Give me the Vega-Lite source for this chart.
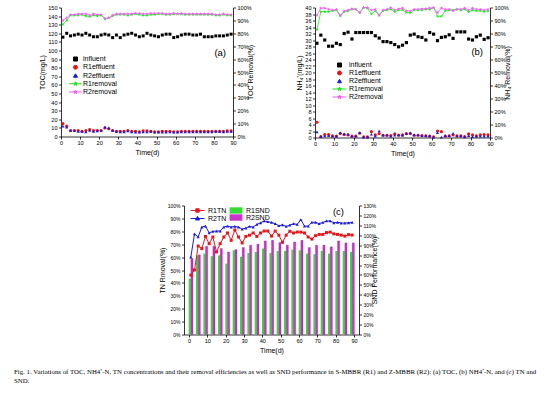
{
"$schema":"https://vega.github.io/schema/vega-lite/v6.json",
"background":"white",
"padding":{"left":13,"top":5.5,"right":5,"bottom":4},
"datasets":{
"toc":[
{"d":1,"inf":115.5,"r1e":15,"r2e":12,"r1r":87,"r2r":90},
{"d":3,"inf":120,"r1e":12,"r2e":11,"r1r":90,"r2r":92},
{"d":5,"inf":117,"r1e":7,"r2e":7,"r1r":94,"r2r":94.5},
{"d":7,"inf":118,"r1e":7,"r2e":7,"r1r":94,"r2r":94.5},
{"d":9,"inf":119,"r1e":7,"r2e":6,"r1r":94,"r2r":95},
{"d":11,"inf":118,"r1e":6,"r2e":6,"r1r":94.5,"r2r":95},
{"d":13,"inf":120,"r1e":7,"r2e":5.5,"r1r":93.5,"r2r":95},
{"d":15,"inf":118,"r1e":8,"r2e":7,"r1r":93,"r2r":94},
{"d":17,"inf":116,"r1e":7,"r2e":6,"r1r":94,"r2r":95},
{"d":19,"inf":116,"r1e":7,"r2e":6.5,"r1r":93.5,"r2r":94.5},
{"d":21,"inf":118,"r1e":7,"r2e":7,"r1r":94,"r2r":94.5},
{"d":23,"inf":119,"r1e":10,"r2e":11,"r1r":91,"r2r":91.5},
{"d":25,"inf":118,"r1e":9,"r2e":10,"r1r":92,"r2r":92},
{"d":27,"inf":115,"r1e":7,"r2e":7,"r1r":93.5,"r2r":94},
{"d":29,"inf":118,"r1e":6,"r2e":6,"r1r":94.5,"r2r":95},
{"d":31,"inf":115,"r1e":6,"r2e":5.5,"r1r":94.5,"r2r":95},
{"d":33,"inf":118,"r1e":6,"r2e":5.5,"r1r":94.5,"r2r":95},
{"d":35,"inf":119,"r1e":7,"r2e":6.5,"r1r":94,"r2r":95},
{"d":37,"inf":120,"r1e":6,"r2e":5.5,"r1r":94.5,"r2r":95},
{"d":39,"inf":118,"r1e":6,"r2e":5,"r1r":95,"r2r":95.5},
{"d":41,"inf":116,"r1e":5.5,"r2e":5,"r1r":94.5,"r2r":95.5},
{"d":43,"inf":117,"r1e":6.5,"r2e":5.5,"r1r":94,"r2r":95},
{"d":45,"inf":120,"r1e":6.5,"r2e":5.5,"r1r":94,"r2r":95},
{"d":47,"inf":118,"r1e":6,"r2e":6,"r1r":94.5,"r2r":95.5},
{"d":49,"inf":117,"r1e":5.5,"r2e":5,"r1r":94.5,"r2r":95.5},
{"d":51,"inf":116,"r1e":5.5,"r2e":5,"r1r":95,"r2r":95.5},
{"d":53,"inf":118,"r1e":6,"r2e":5,"r1r":95,"r2r":95.5},
{"d":55,"inf":119,"r1e":6,"r2e":5,"r1r":94.5,"r2r":95},
{"d":57,"inf":119,"r1e":6,"r2e":5.5,"r1r":94.5,"r2r":95},
{"d":59,"inf":115,"r1e":5.5,"r2e":5,"r1r":95,"r2r":95.5},
{"d":61,"inf":116,"r1e":5.5,"r2e":5,"r1r":95,"r2r":95},
{"d":63,"inf":118,"r1e":6,"r2e":5.5,"r1r":95,"r2r":95.5},
{"d":65,"inf":119,"r1e":6,"r2e":5.5,"r1r":94.5,"r2r":95},
{"d":67,"inf":119,"r1e":6,"r2e":5.5,"r1r":94.5,"r2r":95},
{"d":69,"inf":118,"r1e":6,"r2e":5.5,"r1r":94.5,"r2r":95},
{"d":71,"inf":118,"r1e":6,"r2e":5.5,"r1r":94.5,"r2r":95},
{"d":73,"inf":119,"r1e":6,"r2e":5.5,"r1r":94.5,"r2r":95},
{"d":75,"inf":116,"r1e":6,"r2e":5.5,"r1r":94.5,"r2r":95},
{"d":77,"inf":116,"r1e":6,"r2e":5.5,"r1r":94.5,"r2r":95},
{"d":79,"inf":116,"r1e":6,"r2e":5.5,"r1r":94.5,"r2r":95},
{"d":81,"inf":117,"r1e":6,"r2e":6,"r1r":94,"r2r":94.5},
{"d":83,"inf":117,"r1e":6,"r2e":6,"r1r":94,"r2r":94.5},
{"d":85,"inf":117,"r1e":6,"r2e":5.5,"r1r":94.5,"r2r":95},
{"d":87,"inf":118,"r1e":6.5,"r2e":6,"r1r":94,"r2r":94.5},
{"d":89,"inf":119,"r1e":6.5,"r2e":6,"r1r":94,"r2r":94.5}
],
"nh4":[
{"d":1,"inf":29,"r1e":4.7,"r2e":1.7,"r1r":83,"r2r":94},
{"d":3,"inf":31.5,"r1e":0.3,"r2e":0.3,"r1r":96.8,"r2r":99.5},
{"d":5,"inf":30,"r1e":0.9,"r2e":0.5,"r1r":96.8,"r2r":99.5},
{"d":7,"inf":28.1,"r1e":0.9,"r2e":0.6,"r1r":96.8,"r2r":98.6},
{"d":9,"inf":28.1,"r1e":0.5,"r2e":0.4,"r1r":97.5,"r2r":98},
{"d":11,"inf":29,"r1e":0.4,"r2e":0.4,"r1r":98,"r2r":98.6},
{"d":13,"inf":28.6,"r1e":1.2,"r2e":1.5,"r1r":93.5,"r2r":94},
{"d":15,"inf":32,"r1e":0.9,"r2e":1.1,"r1r":96.8,"r2r":97.3},
{"d":17,"inf":32.4,"r1e":0.8,"r2e":1.0,"r1r":97.3,"r2r":98},
{"d":19,"inf":30.3,"r1e":0.4,"r2e":0.4,"r1r":98.6,"r2r":99},
{"d":21,"inf":32.3,"r1e":0.4,"r2e":0.4,"r1r":98.6,"r2r":98.6},
{"d":23,"inf":32.3,"r1e":1.3,"r2e":1.5,"r1r":96,"r2r":96},
{"d":25,"inf":32.3,"r1e":0.2,"r2e":0.1,"r1r":100,"r2r":100},
{"d":27,"inf":32.3,"r1e":0.2,"r2e":0.1,"r1r":99.5,"r2r":100},
{"d":29,"inf":32.3,"r1e":1.8,"r2e":1.0,"r1r":95,"r2r":98},
{"d":31,"inf":31.3,"r1e":0.8,"r2e":0.4,"r1r":97.3,"r2r":98.6},
{"d":33,"inf":30.6,"r1e":1.2,"r2e":2.0,"r1r":94,"r2r":94},
{"d":35,"inf":29.5,"r1e":0.7,"r2e":0.7,"r1r":97.5,"r2r":98},
{"d":37,"inf":29.5,"r1e":0.7,"r2e":0.7,"r1r":98,"r2r":98.6},
{"d":39,"inf":29.2,"r1e":0.6,"r2e":0.4,"r1r":98.6,"r2r":100},
{"d":41,"inf":28.6,"r1e":1.1,"r2e":0.7,"r1r":96.8,"r2r":98},
{"d":43,"inf":27.9,"r1e":0.7,"r2e":0.8,"r1r":98,"r2r":99},
{"d":45,"inf":28.4,"r1e":0.8,"r2e":0.7,"r1r":98,"r2r":99.5},
{"d":47,"inf":29.2,"r1e":1.2,"r2e":1.2,"r1r":96.2,"r2r":97.5},
{"d":49,"inf":31.5,"r1e":1.2,"r2e":1.4,"r1r":96,"r2r":97.3},
{"d":51,"inf":31.8,"r1e":0.7,"r2e":0.8,"r1r":98,"r2r":98.6},
{"d":53,"inf":31,"r1e":0.7,"r2e":0.8,"r1r":98,"r2r":98.6},
{"d":55,"inf":30.8,"r1e":0.6,"r2e":0.6,"r1r":98,"r2r":99},
{"d":57,"inf":30,"r1e":0.5,"r2e":0.6,"r1r":98.6,"r2r":99},
{"d":59,"inf":32.3,"r1e":0.4,"r2e":0.5,"r1r":98.6,"r2r":99.5},
{"d":61,"inf":31.8,"r1e":0.2,"r2e":0.1,"r1r":100,"r2r":100},
{"d":63,"inf":29.8,"r1e":2.0,"r2e":1.5,"r1r":93.2,"r2r":96},
{"d":65,"inf":30.8,"r1e":1.8,"r2e":0.1,"r1r":93.2,"r2r":99.5},
{"d":67,"inf":31,"r1e":0.4,"r2e":0.6,"r1r":97.5,"r2r":98.6},
{"d":69,"inf":31.6,"r1e":0.5,"r2e":0.6,"r1r":98,"r2r":98.6},
{"d":71,"inf":30.5,"r1e":0.8,"r2e":1.3,"r1r":98,"r2r":97.5},
{"d":73,"inf":32.5,"r1e":0.5,"r2e":0.5,"r1r":98.6,"r2r":98.6},
{"d":75,"inf":32.5,"r1e":0.5,"r2e":0.5,"r1r":98,"r2r":98.6},
{"d":77,"inf":32.5,"r1e":0.3,"r2e":0.2,"r1r":98.6,"r2r":99.5},
{"d":79,"inf":30.3,"r1e":1.1,"r2e":0.6,"r1r":96.8,"r2r":98},
{"d":81,"inf":30,"r1e":0.8,"r2e":0.3,"r1r":98,"r2r":99.5},
{"d":83,"inf":31,"r1e":0.5,"r2e":0.4,"r1r":97.5,"r2r":98.6},
{"d":85,"inf":31.5,"r1e":0.8,"r2e":0.4,"r1r":97.5,"r2r":98.6},
{"d":87,"inf":30.2,"r1e":0.9,"r2e":0.4,"r1r":97,"r2r":98},
{"d":89,"inf":30.7,"r1e":0.8,"r2e":0.4,"r1r":97.3,"r2r":98.6}
],
"tn":[
{"d":1,"r1":46,"r2":60},{"d":3,"r1":50,"r2":78},{"d":5,"r1":68.6,"r2":75.6},{"d":7,"r1":66.6,"r2":83.3},
{"d":9,"r1":76,"r2":84},{"d":11,"r1":70.4,"r2":78.7},{"d":13,"r1":75.6,"r2":80},{"d":15,"r1":64,"r2":80.2},
{"d":17,"r1":70.4,"r2":80.2},{"d":19,"r1":75.6,"r2":83.3},{"d":21,"r1":78.7,"r2":84},{"d":23,"r1":73,"r2":83.3},
{"d":25,"r1":81,"r2":83.8},{"d":27,"r1":75.6,"r2":83.3},{"d":29,"r1":71,"r2":81.7},{"d":31,"r1":76,"r2":82.5},
{"d":33,"r1":77,"r2":83.8},{"d":35,"r1":78.7,"r2":83.3},{"d":37,"r1":76,"r2":85.3},{"d":39,"r1":78.7,"r2":86.6},
{"d":41,"r1":80.2,"r2":88},{"d":43,"r1":80.2,"r2":87.4},{"d":45,"r1":76.3,"r2":86.9},{"d":47,"r1":80.2,"r2":85.9},
{"d":49,"r1":77,"r2":84.3},{"d":51,"r1":71.5,"r2":85},{"d":53,"r1":77,"r2":83.8},{"d":55,"r1":80,"r2":84.8},
{"d":57,"r1":78.7,"r2":85.9},{"d":59,"r1":79.4,"r2":85.3},{"d":61,"r1":79.4,"r2":89},{"d":63,"r1":78.7,"r2":84},
{"d":65,"r1":75.6,"r2":84},{"d":67,"r1":74,"r2":87},{"d":69,"r1":76.6,"r2":87},{"d":71,"r1":77.6,"r2":85.9},
{"d":73,"r1":77.6,"r2":86.9},{"d":75,"r1":79,"r2":88},{"d":77,"r1":79.4,"r2":88},{"d":79,"r1":78,"r2":86.6},
{"d":81,"r1":77.6,"r2":87},{"d":83,"r1":77,"r2":86.4},{"d":85,"r1":76.3,"r2":86.4},{"d":87,"r1":77.4,"r2":86.6},
{"d":89,"r1":77.1,"r2":86.9}
],
"snd":[
{"d":1,"g":56.4,"m":76.6},{"d":5,"g":79.6,"m":80.2},{"d":9,"g":81.5,"m":88.9},{"d":13,"g":78.9,"m":88.9},
{"d":17,"g":79.8,"m":86.6},{"d":21,"g":71.5,"m":83.2},{"d":25,"g":84.9,"m":85.5},{"d":29,"g":78.3,"m":87.6},
{"d":33,"g":82.2,"m":90},{"d":37,"g":83.2,"m":91},{"d":41,"g":86.6,"m":94.3},{"d":45,"g":82.2,"m":94.9},
{"d":49,"g":84.2,"m":92.6},{"d":53,"g":84.2,"m":90},{"d":57,"g":85.5,"m":93.2},{"d":61,"g":84.9,"m":94.9},
{"d":65,"g":81.5,"m":87.6},{"d":69,"g":80.9,"m":90},{"d":73,"g":84.2,"m":90},{"d":77,"g":81.5,"m":88.3},
{"d":81,"g":84.2,"m":94.3},{"d":85,"g":84.2,"m":92.3},{"d":89,"g":83.2,"m":92.3}
]
},
"title":{"text":["Fig. 1. Variations of TOC, NH4⁺-N, TN concentrations and their removal efficiencies as well as SND performance in S-MBBR (R1) and Z-MBBR (R2): (a) TOC, (b) NH4⁺-N, and (c) TN and","SND."],"orient":"bottom","anchor":"start","frame":"bounds","dx":-24.7,"offset":16,"font":"Liberation Serif","fontSize":6.85,"fontWeight":"normal","color":"black","lineHeight":9},
"spacing":47,
"resolve":{"scale":{"color":"independent","stroke":"independent","shape":"independent","fill":"independent"}},
"vconcat":[
{"hconcat":[
{"width":172,"height":129,
 "title":{"text":"(a)","anchor":"end","frame":"group","offset":-52,"dx":-7,"fontSize":9.5,"fontWeight":"normal","font":"Liberation Sans","color":"black"},
 "data":{"name":"toc"},
 "layer":[
   {"mark":{"type":"point","shape":"square","filled":true,"color":"#000000","size":9,"opacity":1},
    "encoding":{"x":{"field":"d","type":"quantitative","scale":{"domain":[0,90],"nice":false},"axis":{"values":[0,10,20,30,40,50,60,70,80,90],"title":"Time(d)"}},
     "y":{"field":"inf","type":"quantitative","scale":{"domain":[0,150],"nice":false},"axis":{"orient":"left","values":[0,10,20,30,40,50,60,70,80,90,100,110,120,130,140,150],"title":"TOC(mg/L)"}}}},
   {"mark":{"type":"point","shape":"circle","filled":true,"color":"#e8161a","size":10,"opacity":1},
    "encoding":{"x":{"field":"d","type":"quantitative","scale":{"domain":[0,90],"nice":false},"axis":{"values":[0,10,20,30,40,50,60,70,80,90],"title":"Time(d)"}},"y":{"field":"r1e","type":"quantitative","scale":{"domain":[0,150],"nice":false},"axis":null}}},
   {"mark":{"type":"point","shape":"triangle-up","filled":true,"color":"#1a1ad8","size":10,"opacity":1},
    "encoding":{"x":{"field":"d","type":"quantitative","scale":{"domain":[0,90],"nice":false},"axis":{"values":[0,10,20,30,40,50,60,70,80,90],"title":"Time(d)"}},"y":{"field":"r2e","type":"quantitative","scale":{"domain":[0,150],"nice":false},"axis":null}}},
   {"mark":{"type":"line","color":"#22e622","strokeWidth":0.8},
    "encoding":{"x":{"field":"d","type":"quantitative","scale":{"domain":[0,90],"nice":false},"axis":{"values":[0,10,20,30,40,50,60,70,80,90],"title":"Time(d)"}},"y":{"field":"r1r","type":"quantitative","scale":{"domain":[0,100],"nice":false},"axis":{"orient":"right","values":[0,10,20,30,40,50,60,70,80,90,100],"labelExpr":"datum.value + '%'","title":"TOC Removal(%)","titleAngle":270}}}},
   {"mark":{"type":"point","shape":"M0,-1L0.235,-0.324L0.951,-0.309L0.38,0.124L0.588,0.809L0,0.4L-0.588,0.809L-0.38,0.124L-0.951,-0.309L-0.235,-0.324Z","filled":true,"color":"#22e622","size":14,"opacity":1},
    "encoding":{"x":{"field":"d","type":"quantitative","scale":{"domain":[0,90],"nice":false},"axis":{"values":[0,10,20,30,40,50,60,70,80,90],"title":"Time(d)"}},"y":{"field":"r1r","type":"quantitative","scale":{"domain":[0,100],"nice":false},"axis":null}}},
   {"mark":{"type":"line","color":"#f060f0","strokeWidth":0.8},
    "encoding":{"x":{"field":"d","type":"quantitative","scale":{"domain":[0,90],"nice":false},"axis":{"values":[0,10,20,30,40,50,60,70,80,90],"title":"Time(d)"}},"y":{"field":"r2r","type":"quantitative","scale":{"domain":[0,100],"nice":false},"axis":null}}},
   {"mark":{"type":"point","shape":"M0,-1L0.235,-0.324L0.951,-0.309L0.38,0.124L0.588,0.809L0,0.4L-0.588,0.809L-0.38,0.124L-0.951,-0.309L-0.235,-0.324Z","filled":true,"color":"#f060f0","size":14,"opacity":1},
    "encoding":{"x":{"field":"d","type":"quantitative","scale":{"domain":[0,90],"nice":false},"axis":{"values":[0,10,20,30,40,50,60,70,80,90],"title":"Time(d)"}},"y":{"field":"r2r","type":"quantitative","scale":{"domain":[0,100],"nice":false},"axis":null}}},
  {"transform":[{"filter":"false"}],
   "mark":{"type":"point","filled":true,"opacity":1},
   "encoding":{
    "color":{"field":"s","type":"nominal","scale":{"domain":["influent","R1effluent","R2effluent","R1removal","R2removal"],"range":["#000000","#e8161a","#1a1ad8","#22e622","#f060f0"]},
      "legend":{"orient":"none","legendX":11,"legendY":48,"title":null,"symbolSize":16,"labelOffset":4,"rowPadding":-0.75,"labelFontSize":7,"symbolStrokeWidth":1,"padding":0}},
    "stroke":{"field":"s","type":"nominal","scale":{"domain":["influent","R1effluent","R2effluent","R1removal","R2removal"],"range":["#000000","#e8161a","#1a1ad8","#22e622","#f060f0"]},
      "legend":{"orient":"none","legendX":11,"legendY":48,"title":null,"symbolSize":16,"labelOffset":4,"rowPadding":-0.75,"labelFontSize":7,"symbolStrokeWidth":1,"padding":0}},
    "shape":{"field":"s","type":"nominal","scale":{"domain":["influent","R1effluent","R2effluent","R1removal","R2removal"],"range":["square","circle","triangle-up","M0,-1L0.235,-0.324L0.951,-0.309L0.38,0.124L0.588,0.809L0,0.4L-0.588,0.809L-0.38,0.124L-0.951,-0.309L-0.235,-0.324ZM-3.3,0H3.3","M0,-1L0.235,-0.324L0.951,-0.309L0.38,0.124L0.588,0.809L0,0.4L-0.588,0.809L-0.38,0.124L-0.951,-0.309L-0.235,-0.324ZM-3.3,0H3.3"]},
      "legend":{"orient":"none","legendX":11,"legendY":48,"title":null,"symbolSize":16,"labelOffset":4,"rowPadding":-0.75,"labelFontSize":7,"symbolStrokeWidth":1,"padding":0}}
   }}
 ],
 "resolve":{"scale":{"y":"independent"}}
},
{"width":175,"height":130,
 "title":{"text":"(b)","anchor":"end","frame":"group","offset":-51,"dx":-7,"fontSize":9.5,"fontWeight":"normal","font":"Liberation Sans","color":"black"},
 "data":{"name":"nh4"},
 "layer":[
   {"mark":{"type":"point","shape":"square","filled":true,"color":"#000000","size":10,"opacity":1},
    "encoding":{"x":{"field":"d","type":"quantitative","scale":{"domain":[0,90],"nice":false},"axis":{"values":[0,10,20,30,40,50,60,70,80,90],"title":"Time(d)"}},
     "y":{"field":"inf","type":"quantitative","scale":{"domain":[0,40],"nice":false},"axis":{"orient":"left","values":[0,2,4,6,8,10,12,14,16,18,20,22,24,26,28,30,32,34,36,38,40],"title":"NH₄⁺(mg/L)"}}}},
   {"mark":{"type":"point","shape":"circle","filled":true,"color":"#e8161a","size":10,"opacity":1},
    "encoding":{"x":{"field":"d","type":"quantitative","scale":{"domain":[0,90],"nice":false},"axis":{"values":[0,10,20,30,40,50,60,70,80,90],"title":"Time(d)"}},"y":{"field":"r1e","type":"quantitative","scale":{"domain":[0,40],"nice":false},"axis":null}}},
   {"mark":{"type":"point","shape":"triangle-up","filled":true,"color":"#1a1ad8","size":10,"opacity":1},
    "encoding":{"x":{"field":"d","type":"quantitative","scale":{"domain":[0,90],"nice":false},"axis":{"values":[0,10,20,30,40,50,60,70,80,90],"title":"Time(d)"}},"y":{"field":"r2e","type":"quantitative","scale":{"domain":[0,40],"nice":false},"axis":null}}},
   {"mark":{"type":"line","color":"#22e622","strokeWidth":0.8},
    "encoding":{"x":{"field":"d","type":"quantitative","scale":{"domain":[0,90],"nice":false},"axis":{"values":[0,10,20,30,40,50,60,70,80,90],"title":"Time(d)"}},"y":{"field":"r1r","type":"quantitative","scale":{"domain":[0,100],"nice":false},"axis":{"orient":"right","values":[0,10,20,30,40,50,60,70,80,90,100],"labelExpr":"datum.value + '%'","title":"NH₄⁺Removal(%)","titleAngle":270}}}},
   {"mark":{"type":"point","shape":"M0,-1L0.235,-0.324L0.951,-0.309L0.38,0.124L0.588,0.809L0,0.4L-0.588,0.809L-0.38,0.124L-0.951,-0.309L-0.235,-0.324Z","filled":true,"color":"#22e622","size":14,"opacity":1},
    "encoding":{"x":{"field":"d","type":"quantitative","scale":{"domain":[0,90],"nice":false},"axis":{"values":[0,10,20,30,40,50,60,70,80,90],"title":"Time(d)"}},"y":{"field":"r1r","type":"quantitative","scale":{"domain":[0,100],"nice":false},"axis":null}}},
   {"mark":{"type":"line","color":"#f060f0","strokeWidth":0.8},
    "encoding":{"x":{"field":"d","type":"quantitative","scale":{"domain":[0,90],"nice":false},"axis":{"values":[0,10,20,30,40,50,60,70,80,90],"title":"Time(d)"}},"y":{"field":"r2r","type":"quantitative","scale":{"domain":[0,100],"nice":false},"axis":null}}},
   {"mark":{"type":"point","shape":"M0,-1L0.235,-0.324L0.951,-0.309L0.38,0.124L0.588,0.809L0,0.4L-0.588,0.809L-0.38,0.124L-0.951,-0.309L-0.235,-0.324Z","filled":true,"color":"#f060f0","size":14,"opacity":1},
    "encoding":{"x":{"field":"d","type":"quantitative","scale":{"domain":[0,90],"nice":false},"axis":{"values":[0,10,20,30,40,50,60,70,80,90],"title":"Time(d)"}},"y":{"field":"r2r","type":"quantitative","scale":{"domain":[0,100],"nice":false},"axis":null}}},
  {"transform":[{"filter":"false"}],
   "mark":{"type":"point","filled":true,"opacity":1},
   "encoding":{
    "color":{"field":"s","type":"nominal","scale":{"domain":["influent","R1effluent","R2effluent","R1removal","R2removal"],"range":["#000000","#e8161a","#1a1ad8","#22e622","#f060f0"]},
      "legend":{"orient":"none","legendX":21,"legendY":54,"title":null,"symbolSize":16,"labelOffset":6,"rowPadding":-1.2,"labelFontSize":7,"symbolStrokeWidth":1,"padding":0}},
    "stroke":{"field":"s","type":"nominal","scale":{"domain":["influent","R1effluent","R2effluent","R1removal","R2removal"],"range":["#000000","#e8161a","#1a1ad8","#22e622","#f060f0"]},
      "legend":{"orient":"none","legendX":21,"legendY":54,"title":null,"symbolSize":16,"labelOffset":6,"rowPadding":-1.2,"labelFontSize":7,"symbolStrokeWidth":1,"padding":0}},
    "shape":{"field":"s","type":"nominal","scale":{"domain":["influent","R1effluent","R2effluent","R1removal","R2removal"],"range":["square","circle","triangle-up","M0,-1L0.235,-0.324L0.951,-0.309L0.38,0.124L0.588,0.809L0,0.4L-0.588,0.809L-0.38,0.124L-0.951,-0.309L-0.235,-0.324ZM-3.5,0H3.5","M0,-1L0.235,-0.324L0.951,-0.309L0.38,0.124L0.588,0.809L0,0.4L-0.588,0.809L-0.38,0.124L-0.951,-0.309L-0.235,-0.324ZM-3.5,0H3.5"]},
      "legend":{"orient":"none","legendX":21,"legendY":54,"title":null,"symbolSize":16,"labelOffset":6,"rowPadding":-1.2,"labelFontSize":7,"symbolStrokeWidth":1,"padding":0}}
   }}
 ],
 "resolve":{"scale":{"y":"independent"}}
}
],
"spacing":41,
"resolve":{"scale":{"color":"independent","stroke":"independent","shape":"independent","fill":"independent"}}
},
{"hconcat":[
{"width":96.5,"height":1,"data":{"values":[]},"mark":"point"},
{"width":175,"height":129,
 "title":{"text":"(c)","anchor":"end","frame":"group","offset":-13,"dx":-15,"fontSize":9.5,"fontWeight":"normal","font":"Liberation Sans","color":"black"},
 "layer":[
   {"data":{"name":"snd"},"mark":{"type":"bar","width":2.1,"xOffset":-1.1,"color":"#33dd33"},
    "encoding":{"x":{"field":"d","type":"quantitative","scale":{"domain":[0,90],"nice":false},"axis":{"values":[0,10,20,30,40,50,60,70,80,90],"title":"Time(d)"}},
     "y":{"field":"g","type":"quantitative","scale":{"domain":[0,130],"nice":false},"axis":{"orient":"right","values":[0,10,20,30,40,50,60,70,80,90,100,110,120,130],"labelExpr":"datum.value + '%'","labelFontSize":5,"title":"SND Performance(%)","titleAngle":270}}}},
   {"data":{"name":"snd"},"mark":{"type":"bar","width":2.1,"xOffset":1.1,"color":"#cc33cc","stroke":"#7a007a","strokeWidth":0.3},
    "encoding":{"x":{"field":"d","type":"quantitative","scale":{"domain":[0,90],"nice":false},"axis":{"values":[0,10,20,30,40,50,60,70,80,90],"title":"Time(d)"}},"y":{"field":"m","type":"quantitative","scale":{"domain":[0,130],"nice":false},"axis":null}}},
   {"data":{"name":"tn"},"mark":{"type":"line","color":"#e8161a","strokeWidth":1},
    "encoding":{"x":{"field":"d","type":"quantitative","scale":{"domain":[0,90],"nice":false},"axis":{"values":[0,10,20,30,40,50,60,70,80,90],"title":"Time(d)"}},"y":{"field":"r1","type":"quantitative","scale":{"domain":[0,100],"nice":false},"axis":{"orient":"left","values":[0,10,20,30,40,50,60,70,80,90,100],"labelExpr":"datum.value + '%'","labelFontSize":5,"title":"TN Rmoval(%)"}}}},
   {"data":{"name":"tn"},"mark":{"type":"point","shape":"square","filled":true,"color":"#e8161a","size":9,"opacity":1},
    "encoding":{"x":{"field":"d","type":"quantitative","scale":{"domain":[0,90],"nice":false},"axis":{"values":[0,10,20,30,40,50,60,70,80,90],"title":"Time(d)"}},"y":{"field":"r1","type":"quantitative","scale":{"domain":[0,100],"nice":false},"axis":null}}},
   {"data":{"name":"tn"},"mark":{"type":"line","color":"#1a1ad8","strokeWidth":1},
    "encoding":{"x":{"field":"d","type":"quantitative","scale":{"domain":[0,90],"nice":false},"axis":{"values":[0,10,20,30,40,50,60,70,80,90],"title":"Time(d)"}},"y":{"field":"r2","type":"quantitative","scale":{"domain":[0,100],"nice":false},"axis":null}}},
   {"data":{"name":"tn"},"mark":{"type":"point","shape":"triangle-up","filled":true,"color":"#1a1ad8","size":10,"opacity":1},
    "encoding":{"x":{"field":"d","type":"quantitative","scale":{"domain":[0,90],"nice":false},"axis":{"values":[0,10,20,30,40,50,60,70,80,90],"title":"Time(d)"}},"y":{"field":"r2","type":"quantitative","scale":{"domain":[0,100],"nice":false},"axis":null}}},
  {"data":{"name":"tn"},"transform":[{"filter":"false"}],
   "mark":{"type":"point","filled":true,"opacity":1},
   "encoding":{
    "color":{"field":"s","type":"nominal","scale":{"domain":["R1TN","R2TN"],"range":["#e8161a","#1a1ad8"]},
      "legend":{"orient":"none","legendX":10,"legendY":1.5,"title":null,"symbolSize":16,"labelOffset":7,"rowPadding":-2,"labelFontSize":7,"symbolStrokeWidth":1,"padding":0}},
    "stroke":{"field":"s","type":"nominal","scale":{"domain":["R1TN","R2TN"],"range":["#e8161a","#1a1ad8"]},
      "legend":{"orient":"none","legendX":10,"legendY":1.5,"title":null,"symbolSize":16,"labelOffset":7,"rowPadding":-2,"labelFontSize":7,"symbolStrokeWidth":1,"padding":0}},
    "shape":{"field":"s","type":"nominal","scale":{"domain":["R1TN","R2TN"],"range":["M-0.85,-0.85H0.85V0.85H-0.85ZM-3.5,0H3.5","M0,-1.1L1,0.75H-1ZM-3.5,0H3.5"]},
      "legend":{"orient":"none","legendX":10,"legendY":1.5,"title":null,"symbolSize":16,"labelOffset":7,"rowPadding":-2,"labelFontSize":7,"symbolStrokeWidth":1,"padding":0}}
   }},
  {"data":{"name":"snd"},"transform":[{"filter":"false"}],
   "mark":{"type":"point","filled":true,"opacity":1,"shape":"M-3.2,-1.6H3.2V1.6H-3.2Z"},
   "encoding":{
    "fill":{"field":"b","type":"nominal","scale":{"domain":["R1SND","R2SND"],"range":["#33dd33","#cc33cc"]},
      "legend":{"orient":"none","legendX":48.5,"legendY":1.5,"title":null,"symbolSize":16,"symbolType":"M-3.2,-1.6H3.2V1.6H-3.2Z","labelOffset":6.5,"rowPadding":-2,"labelFontSize":7,"padding":0}}
   }}
 ],
 "resolve":{"scale":{"y":"independent"}}
}
],
"spacing":0,
"resolve":{"scale":{"color":"independent","stroke":"independent","shape":"independent","fill":"independent"}}
}
],
"config":{
 "view":{"stroke":null},
 "font":"Liberation Sans",
 "axis":{"labelFontSize":5.6,"titleFontSize":7,"titleFontWeight":"normal","tickSize":2.5,"labelPadding":1.5,"titlePadding":2,"domainColor":"#000000","tickColor":"#000000","labelColor":"#000000","titleColor":"#000000","grid":false,"labelFont":"Liberation Sans","titleFont":"Liberation Sans","labelFlush":false,"labelOverlap":false,"domainWidth":0.8,"tickWidth":0.8},
 "legend":{"labelFont":"Liberation Sans","labelColor":"#000000"}
}
}
